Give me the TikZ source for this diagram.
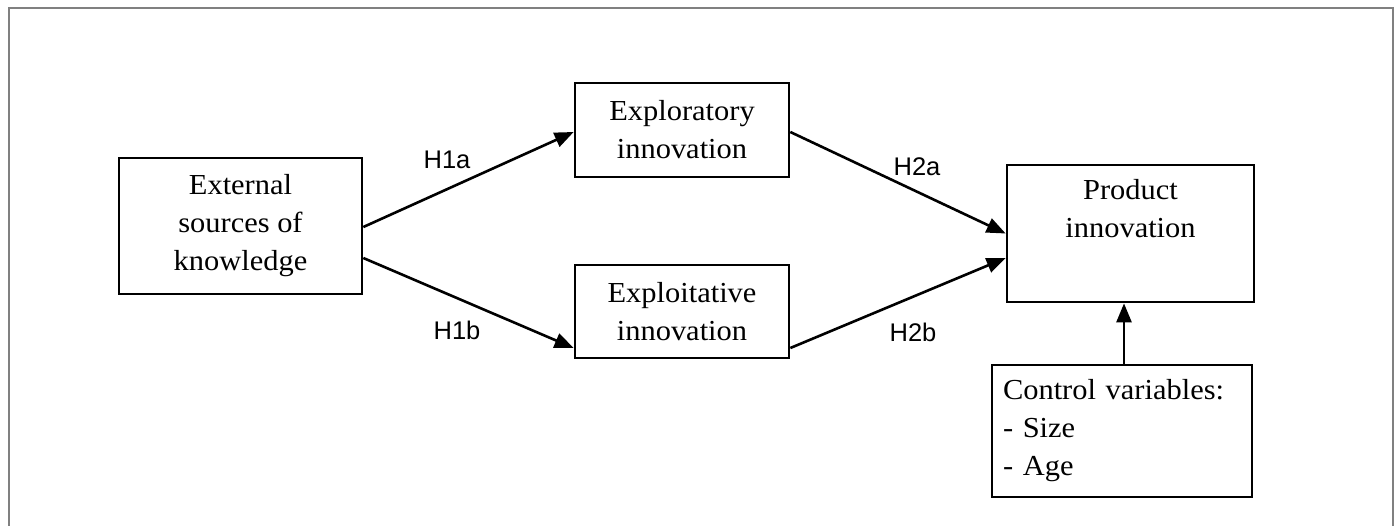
\documentclass[tikz,border=0pt]{standalone}
\usepackage{fontspec}
\setmainfont{Liberation Serif}[FakeStretch=1.05]
\setsansfont{Liberation Sans}
\usetikzlibrary{arrows.meta}
\begin{document}
\begin{tikzpicture}[x=1pt,y=-1pt,
  box/.style={draw=black,line width=2.7pt,align=center,inner sep=0pt,
    font=\fontsize{29}{38}\selectfont},
  hyp/.style={font=\sffamily\fontsize{25.5}{30}\selectfont,inner sep=0pt},
  conn/.style={line width=2.6pt,-{Triangle[length=19pt,width=15pt]}}]
\useasboundingbox (0,0) rectangle (1395,525);
\draw[draw=black!50,line width=2pt] (9,540) -- (9,8) -- (1393,8) -- (1393,540);
\node[box,minimum width=243pt,minimum height=136pt] (ext) at (240.5,226) {External\\sources of\\knowledge};
\node[box,minimum width=214pt,minimum height=94pt] (explor) at (682,130) {Exploratory\\innovation};
\node[box,minimum width=214pt,minimum height=93pt] (exploit) at (682,311.5) {Exploitative\\innovation};
\node[box,minimum width=247pt,minimum height=137pt] (prod) at (1130.5,233.5) {Product\\innovation\\\strut};
\node[box,minimum width=260pt,minimum height=132pt,align=left,text width=238pt] (ctrl) at (1122,431) {Control variables:\\- Size\\- Age};
\draw[conn] ([yshift=-1pt]ext.east) -- ([yshift=-2pt]explor.west);
\draw[conn] ([yshift=-32pt]ext.east) -- ([yshift=-36.5pt]exploit.west);
\draw[conn] ([yshift=-2pt]explor.east) -- ([yshift=0pt]prod.west);
\draw[conn] ([yshift=-36.5pt]exploit.east) -- ([yshift=-24.5pt]prod.west);
\draw[conn] ([xshift=2pt]ctrl.north) -- ([xshift=2pt]ctrl.north |- prod.south);
\node[hyp] (h1a) at (447,160) {H1a};
\node[hyp] (h1b) at (457,330) {H1b};
\node[hyp] (h2a) at (917,167) {H2a};
\node[hyp] (h2b) at (913,332) {H2b};
\end{tikzpicture}
\end{document}
